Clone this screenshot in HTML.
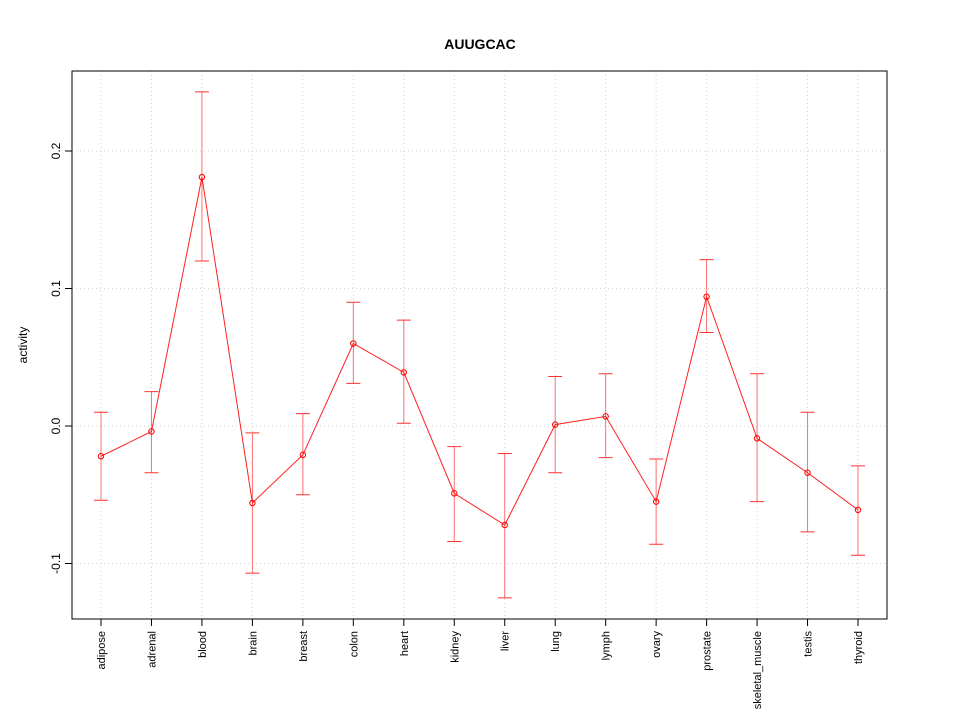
<!DOCTYPE html>
<html><head><meta charset="utf-8"><style>
body{margin:0;background:#fff;}
svg{display:block;font-family:"Liberation Sans",sans-serif;}
</style></head><body>
<svg id="chart" width="960" height="720"></svg>
<script>
const categories=["adipose","adrenal","blood","brain","breast","colon","heart","kidney","liver","lung","lymph","ovary","prostate","skeletal_muscle","testis","thyroid"];
const values=[-0.022,-0.004,0.181,-0.056,-0.021,0.060,0.039,-0.049,-0.072,0.001,0.007,-0.055,0.094,-0.009,-0.034,-0.061];
const upper=[0.010,0.025,0.243,-0.005,0.009,0.090,0.077,-0.015,-0.020,0.036,0.038,-0.024,0.121,0.038,0.010,-0.029];
const lower=[-0.054,-0.034,0.120,-0.107,-0.050,0.031,0.002,-0.084,-0.125,-0.034,-0.023,-0.086,0.068,-0.055,-0.077,-0.094];
const yTicks=[-0.1,0.0,0.1,0.2];
const yTickLabels=["-0.1","0.0","0.1","0.2"];

const NS="http://www.w3.org/2000/svg";
const svg=document.getElementById('chart');
const L=72,R=887,T=71,B=619;
const x=i=>101+i*(858-101)/(categories.length-1);
const y=v=>426-v*1375;
function el(tag,attrs,parent){const e=document.createElementNS(NS,tag);for(const k in attrs)e.setAttribute(k,attrs[k]);(parent||svg).appendChild(e);return e;}

const grid=el('g',{});


categories.forEach((c,i)=>{el('line',{x1:x(i),x2:x(i),y1:T,y2:B,stroke:'#d3d3d3','stroke-dasharray':'1,3'},grid);});
yTicks.forEach(v=>{el('line',{x1:L,x2:R,y1:y(v),y2:y(v),stroke:'#d3d3d3','stroke-dasharray':'1,3'},grid);});

const frame=el('rect',{x:L,y:T,width:R-L,height:B-T,fill:'none',stroke:'#000'});



const title=el('text',{x:480,y:49,'text-anchor':'middle','font-size':14,'font-weight':'bold'});
title.textContent='AUUGCAC';



const yl=el('text',{x:0,y:0,transform:'translate(27,345) rotate(-90)','text-anchor':'middle','font-size':12});
yl.textContent='activity';



const yax=el('g',{});


yTicks.forEach((v,i)=>{
  el('line',{x1:L-7,x2:L,y1:y(v),y2:y(v),stroke:'#000'},yax);
  const t=el('text',{x:0,y:0,transform:`translate(${L-12},${y(v)}) rotate(-90)`,'text-anchor':'middle','font-size':12},yax);
  t.textContent=yTickLabels[i];
});

const xax=el('g',{});


categories.forEach((c,i)=>{
  el('line',{x1:x(i),x2:x(i),y1:B,y2:B+7,stroke:'#000'},xax);
  const t=el('text',{x:0,y:0,transform:`translate(${x(i)+4},${B+12}) rotate(-90)`,'text-anchor':'end','font-size':11},xax);
  t.textContent=c;
});

const bars=el('g',{});


categories.forEach((c,i)=>{
  const cx=x(i);
  el('line',{x1:cx,x2:cx,y1:y(upper[i]),y2:y(lower[i]),stroke:'#ff7070'},bars);
  el('line',{x1:cx-7,x2:cx+7,y1:y(upper[i]),y2:y(upper[i]),stroke:'#ff3030'},bars);
  el('line',{x1:cx-7,x2:cx+7,y1:y(lower[i]),y2:y(lower[i]),stroke:'#ff3030'},bars);
});

const line=el('polyline',{points:values.map((v,i)=>x(i)+','+y(v)).join(' '),fill:'none',stroke:'#ff2020'});



values.forEach((v,i)=>{
  const p=el('circle',{cx:x(i),cy:y(v),r:2.7,fill:'none',stroke:'#ff0000'});
  
  
});
</script>
</body></html>
